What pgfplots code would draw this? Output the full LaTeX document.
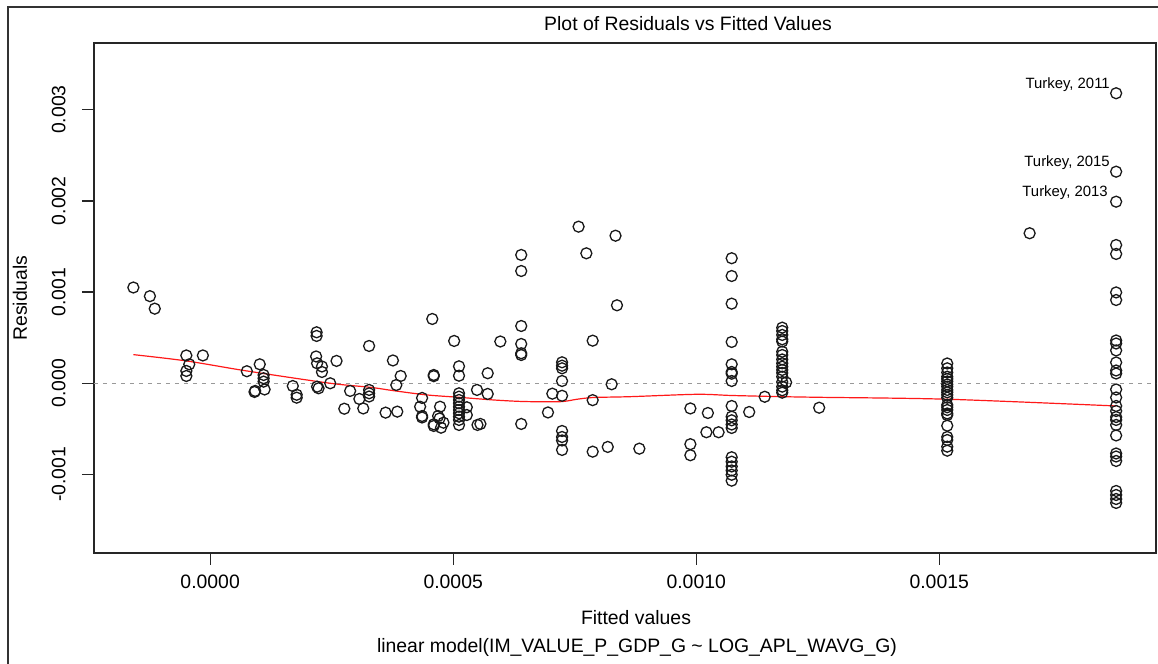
\documentclass[border=0pt]{standalone}
\usepackage{fontspec}
\setmainfont{Liberation Sans}
\usepackage{pgfplots}
\pgfplotsset{compat=1.18}

\begin{document}
\begin{tikzpicture}
\fontsize{9.7}{11.6}\selectfont
% page = whole screenshot
\useasboundingbox (-47pt,-55.5pt) rectangle (532pt,276.5pt);
\draw[line width=0.65pt, black!80] (-43pt,-60pt) -- (-43pt,273pt) -- (540pt,273pt);
\begin{axis}[
    at={(0,0)}, anchor=south west,
    scale only axis,
    width=531pt, height=255pt,
    xmin=-0.000239, xmax=0.001946,
    ymin=-0.001861, ymax=0.003731,
    axis line style={line width=0.65pt, black!85},
    tick style={line width=0.65pt, black!85},
    tick align=outside, major tick length=6pt,
    xtick pos=bottom, ytick pos=left,
    scaled ticks=false,
    xtick={0,0.0005,0.001,0.0015},
    xticklabels={0.0000,0.0005,0.0010,0.0015},
    ytick={-0.001,0,0.001,0.002,0.003},
    yticklabels={-0.001,0.000,0.001,0.002,0.003},
    xticklabel style={inner sep=0pt, anchor=north, yshift=-5pt},
    yticklabel style={xshift=-8pt, rotate=90, anchor=south, inner sep=0pt},
    tick label style={font=\fontsize{9.7}{11.6}\selectfont},
    clip=false,
]
% zero reference
\addplot[gray!80, line width=0.5pt, dash pattern=on 2pt off 2.5pt] coordinates {(-0.000239,0) (0.001946,0)};
% residuals
\addplot[only marks, mark=o, mark size=2.75pt, black!90, mark options={line width=0.65pt}] table {
x y
-0.000158 0.001050
-0.000124 0.000955
-0.000114 0.000818
-0.000049 0.000305
-0.000043 0.000208
-0.000049 0.000135
-0.000049 0.000080
-0.000015 0.000305
0.0000755 0.000132
0.000102 0.000208
0.000110 0.000091
0.000110 0.000055
0.000110 0.000018
0.0000926 -0.000084
0.0000912 -0.000095
0.000112 -0.000068
0.000170 -0.000030
0.000178 -0.000126
0.000178 -0.000158
0.000219 0.000559
0.000219 0.000519
0.000218 0.000294
0.000220 0.000219
0.000230 0.000184
0.000230 0.000124
0.000220 -0.000037
0.000223 -0.000055
0.000247 0.000000
0.000260 0.000245
0.000288 -0.000084
0.000276 -0.000279
0.000307 -0.000172
0.000315 -0.000276
0.000327 0.000409
0.000327 -0.000073
0.000327 -0.000110
0.000327 -0.000145
0.000361 -0.000322
0.000376 0.000250
0.000383 -0.000019
0.000385 -0.000311
0.000392 0.000080
0.000432 -0.000257
0.000436 -0.000161
0.000436 -0.000359
0.000436 -0.000375
0.000457 0.000705
0.000460 0.000091
0.000460 0.000078
0.000460 -0.000450
0.000460 -0.000468
0.000469 -0.000359
0.000472 -0.000386
0.000473 -0.000257
0.000475 -0.000487
0.000480 -0.000432
0.000502 0.000464
0.000512 0.000186
0.000512 0.000083
0.000512 -0.000110
0.000512 -0.000147
0.000512 -0.000183
0.000512 -0.000219
0.000512 -0.000257
0.000512 -0.000293
0.000512 -0.000329
0.000512 -0.000366
0.000512 -0.000402
0.000512 -0.000457
0.000528 -0.000263
0.000528 -0.000348
0.000549 -0.000073
0.000550 -0.000457
0.000556 -0.000446
0.000571 0.000110
0.000571 -0.000117
0.000597 0.000458
0.000640 0.001407
0.000640 0.001231
0.000640 0.000628
0.000640 0.000431
0.000640 0.000329
0.000640 0.000310
0.000640 -0.000446
0.000695 -0.000320
0.000704 -0.000114
0.000724 0.000230
0.000724 0.000193
0.000724 0.000164
0.000724 0.000025
0.000724 -0.000137
0.000724 -0.000523
0.000724 -0.000589
0.000724 -0.000627
0.000724 -0.000731
0.000758 0.001717
0.000774 0.001425
0.000787 0.000467
0.000787 -0.000185
0.000787 -0.000750
0.000818 -0.000698
0.000826 -0.000011
0.000834 0.001618
0.000837 0.000855
0.000883 -0.000717
0.000988 -0.000276
0.000988 -0.000668
0.000988 -0.000789
0.001024 -0.000326
0.001021 -0.000537
0.001046 -0.000537
0.001073 0.001371
0.001073 0.001176
0.001073 0.000873
0.001073 0.000453
0.001073 0.000208
0.001073 0.000124
0.001073 0.000105
0.001073 0.000025
0.001073 -0.000249
0.001073 -0.000366
0.001073 -0.000406
0.001073 -0.000452
0.001073 -0.000490
0.001073 -0.000811
0.001073 -0.000860
0.001073 -0.000912
0.001073 -0.000956
0.001073 -0.001003
0.001073 -0.001068
0.001109 -0.000315
0.001141 -0.000148
0.001177 0.000610
0.001177 0.000573
0.001177 0.000530
0.001177 0.000482
0.001177 0.000458
0.001177 0.000346
0.001177 0.000310
0.001177 0.000261
0.001177 0.000219
0.001177 0.000182
0.001177 0.000146
0.001177 0.000113
0.001177 0.000072
0.001177 0.000014
0.001177 -0.000037
0.001177 -0.000077
0.001177 -0.000103
0.001185 0.000009
0.001253 -0.000268
0.0015165 0.000217
0.0015165 0.000164
0.0015165 0.000118
0.0015165 0.000072
0.0015165 0.000047
0.0015165 0.000020
0.0015165 -0.000013
0.0015165 -0.000037
0.0015165 -0.000073
0.0015165 -0.000099
0.0015165 -0.000128
0.0015165 -0.000158
0.0015165 -0.000238
0.0015165 -0.000263
0.0015165 -0.000293
0.0015165 -0.000331
0.0015165 -0.000348
0.0015165 -0.000465
0.0015165 -0.000589
0.0015165 -0.000622
0.0015165 -0.000695
0.0015165 -0.000739
0.001686 0.001645
0.001864 0.003180
0.001864 0.002320
0.001864 0.001991
0.001864 0.001516
0.001864 0.001418
0.001864 0.000996
0.001864 0.000913
0.001864 0.000469
0.001864 0.000436
0.001864 0.000360
0.001864 0.000228
0.001864 0.000140
0.001864 0.000107
0.001864 -0.000068
0.001864 -0.000156
0.001864 -0.000249
0.001864 -0.000304
0.001864 -0.000370
0.001864 -0.000402
0.001864 -0.000457
0.001864 -0.000572
0.001864 -0.000770
0.001864 -0.000803
0.001864 -0.000852
0.001864 -0.001181
0.001864 -0.001225
0.001864 -0.001269
0.001864 -0.001312
};
% lowess smoother
\addplot[red!90, line width=0.6pt, smooth] table {
x y
-0.000158 0.000314
-0.000049 0.000245
0.0000755 0.000135
0.000247 0.000000
0.000329 -0.000044
0.000377 -0.000081
0.000446 -0.000128
0.000512 -0.000154
0.000583 -0.000183
0.000645 -0.000200
0.000720 -0.000202
0.000755 -0.000175
0.000789 -0.000156
0.000864 -0.000147
0.001001 -0.000121
0.001073 -0.000134
0.001177 -0.000147
0.001255 -0.000154
0.0015165 -0.000175
0.001864 -0.000249
};
\begin{scope}[font=\fontsize{7.45}{9}\selectfont]
\node[anchor=base east, inner sep=0pt, xshift=-3pt, yshift=2.5pt] at (axis cs:0.001864,0.003180) {Turkey, 2011};
\node[anchor=base east, inner sep=0pt, xshift=-3pt, yshift=2.5pt] at (axis cs:0.001864,0.002320) {Turkey, 2015};
\node[anchor=base east, inner sep=0pt, xshift=-4pt, yshift=2.5pt] at (axis cs:0.001864,0.001991) {Turkey, 2013};
\end{scope}
\end{axis}
\node at (297pt,264.5pt) {Plot of Residuals vs Fitted Values};
\node at (271pt,-32.5pt) {Fitted values};
\node at (271.5pt,-47pt) {linear model(IM\_VALUE\_P\_GDP\_G \textasciitilde{} LOG\_APL\_WAVG\_G)};
\node[rotate=90] at (-37pt,127.5pt) {Residuals};
\end{tikzpicture}
\end{document}
